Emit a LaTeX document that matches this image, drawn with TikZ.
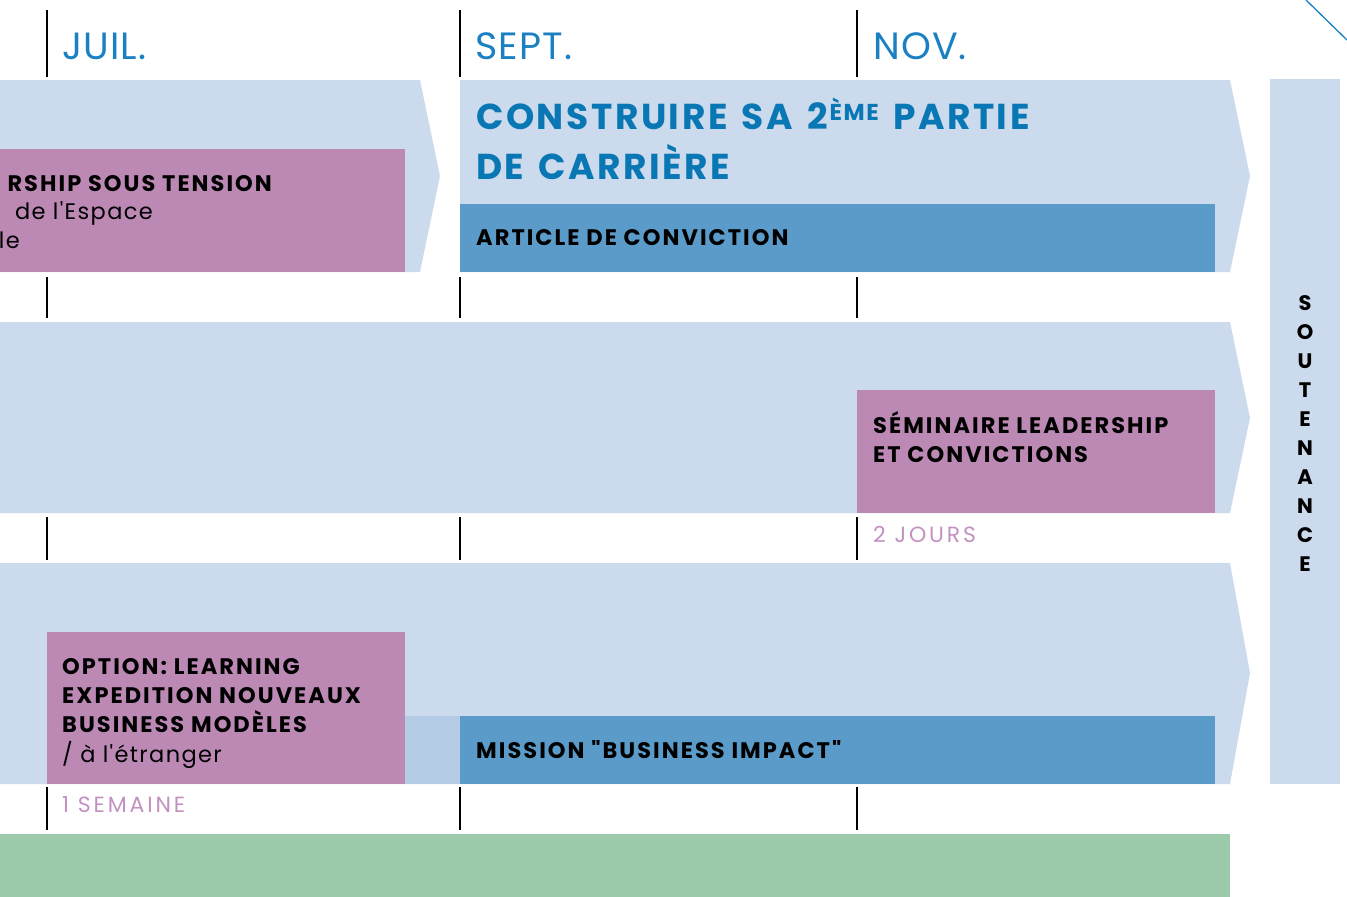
\documentclass[tikz,border=0pt]{standalone}
\usepackage{fontspec}
\setmainfont{Poppins}
\newfontfamily\boxfont[LetterSpace=9]{Poppins}
\newfontfamily\titlefont[LetterSpace=7,WordSpace=1.4]{Poppins}
\newfontfamily\plainfont[LetterSpace=6]{Poppins}
\newfontfamily\durationfont[LetterSpace=13]{Poppins}
\newfontfamily\monthfont[LetterSpace=3]{Poppins}
\definecolor{bandblue}{HTML}{CBDAEC}
\definecolor{barblue}{HTML}{5A9BC9}
\definecolor{midblue}{HTML}{B4CBE5}
\definecolor{mauve}{HTML}{BC89B5}
\definecolor{mauvetext}{HTML}{C391C0}
\definecolor{titleblue}{HTML}{0A77B5}
\definecolor{monthblue}{HTML}{1A80C2}
\definecolor{sage}{HTML}{9CCBAB}
\tikzset{
  band/.style={fill=bandblue},
  mauvebox/.style={fill=mauve, inner sep=0pt, anchor=north west},
  barbox/.style={fill=barblue, inner sep=0pt, anchor=north west},
  monthlabel/.style={anchor=base west, inner sep=0pt, text=monthblue, font=\monthfont\fontsize{38}{40}\selectfont},
  boxtext/.style={anchor=base west, inner sep=0pt, font=\boxfont\fontsize{22.5}{29}\selectfont\bfseries},
  plaintext/.style={anchor=base west, inner sep=0pt, font=\plainfont\fontsize{22.5}{29}\selectfont},
  durationtext/.style={anchor=base west, inner sep=0pt, text=mauvetext, font=\durationfont\fontsize{22}{29}\selectfont},
  tick/.style={line width=1.3pt}
}
\begin{document}
\begin{tikzpicture}[x=1pt,y=-1pt]
\useasboundingbox (0,0) rectangle (1347,897);
\fill[band] (0,80) -- (420,80) -- (440,176) -- (420,272) -- (0,272) -- cycle;
\fill[band] (460,80) -- (1230,80) -- (1250,176) -- (1230,272) -- (460,272) -- cycle;
\fill[band] (0,322) -- (1230,322) -- (1250,418) -- (1230,513) -- (0,513) -- cycle;
\fill[band] (0,563) -- (1230,563) -- (1250,673) -- (1230,784) -- (0,784) -- cycle;
\fill[band] (1270,79) rectangle (1340,784);
\fill[sage] (0,834) rectangle (1230,897);
\fill[midblue] (405,716) rectangle (460,784);
\draw[monthblue, line width=1.3pt] (1306,0) -- (1347,40);

\draw[tick] (47,10) -- (47,77) (460,10) -- (460,77) (857,10) -- (857,77);
\draw[tick] (47,277) -- (47,318) (460,277) -- (460,318) (857,277) -- (857,318);
\draw[tick] (47,517) -- (47,560) (460,517) -- (460,560) (857,517) -- (857,560);
\draw[tick] (47,787) -- (47,830) (460,787) -- (460,830) (857,787) -- (857,830);

\node[monthlabel] (juil) at (62,59) {JUIL.};
\node[monthlabel] (sept) at (475,59) {SEPT.};
\node[monthlabel] (nov) at (873,59) {NOV.};

\node[mauvebox, minimum width=405pt, minimum height=123pt] (tensionbox) at (0,149) {};
\node[boxtext, anchor=base east] (tension) at (272,191) {RSHIP SOUS TENSION};
\node[plaintext, anchor=base east] (espace) at (153,219) {de l'Espace};
\node[plaintext, anchor=base east] (espacele) at (20,248) {le};

\node[anchor=base west, inner sep=0pt, align=left, text=titleblue, font=\titlefont\fontsize{36}{50}\selectfont\bfseries] (carriere) at (476,179) {CONSTRUIRE SA 2\kern2pt\raisebox{9pt}{\fontsize{23}{23}\selectfont ÈME} PARTIE\\DE CARRIÈRE};
\node[barbox, minimum width=755pt, minimum height=68pt] (articlebox) at (460,204) {};
\node[boxtext] (article) at (476,245) {ARTICLE DE CONVICTION};

\node[mauvebox, minimum width=358pt, minimum height=123pt] (seminairebox) at (857,390) {};
\node[boxtext, align=left] (seminaire) at (873,462) {SÉMINAIRE LEADERSHIP\\ET CONVICTIONS};
\node[durationtext] (jours) at (873,542) {2 JOURS};

\node[mauvebox, minimum width=358pt, minimum height=152pt] (optionbox) at (47,632) {};
\node[boxtext, align=left] (option) at (62,732) {OPTION: LEARNING\\EXPEDITION NOUVEAUX\\BUSINESS MODÈLES};
\node[plaintext] (etranger) at (62,762) {/ à l'étranger};
\node[durationtext] (semaine) at (62,812) {1 SEMAINE};
\node[barbox, minimum width=755pt, minimum height=68pt] (missionbox) at (460,716) {};
\node[boxtext] (mission) at (476,758) {MISSION "BUSINESS IMPACT"};

\node[inner sep=0pt, align=center, font=\fontsize{21}{29}\selectfont\bfseries] (soutenance) at (1305,434) {S\\O\\U\\T\\E\\N\\A\\N\\C\\E};
\end{tikzpicture}
\end{document}
